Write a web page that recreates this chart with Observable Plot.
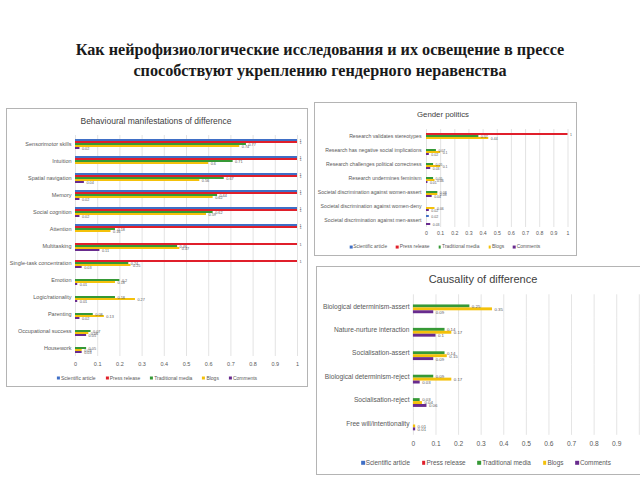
<!DOCTYPE html>
<html><head><meta charset="utf-8">
<script src="https://cdn.jsdelivr.net/npm/d3@7"></script>
<script src="https://cdn.jsdelivr.net/npm/@observablehq/plot@0.6"></script>
<style>
html,body{margin:0;padding:0;background:#fff;overflow:hidden;}
#page{position:relative;width:640px;height:480px;overflow:hidden;font-family:"Liberation Sans",Arial,sans-serif;background:#fff;}
.panel{position:absolute;border:1px solid #b4b4b4;box-sizing:border-box;background:#fff;}
.plot{position:absolute;}
.ptitle{position:absolute;transform:translate(-50%,-50%);white-space:nowrap;color:#404040;line-height:1;}
.legend{position:absolute;transform:translate(-50%,-50%);display:flex;white-space:nowrap;color:#595959;align-items:center;line-height:1;}
.legend .item{display:flex;align-items:center;}
.legend .sw{display:inline-block;margin-right:1px;}
.maintitle{position:absolute;left:0;width:640px;text-align:center;font-family:"Liberation Serif","Times New Roman",serif;font-weight:bold;color:#1a1a1a;white-space:nowrap;line-height:1;transform:translateY(-50%);}
</style></head><body><div id="page"></div><script>
// ---------- data ----------
const seriesNames = ["Scientific article","Press release","Traditional media","Blogs","Comments"];
const seriesColors = ["#3f6fc6","#e01f2b","#369936","#f4c10a","#682b8e"];
const mainTitle = ["Как нейрофизиологические исследования и их освещение в прессе","способствуют укреплению гендерного неравенства"];

const behaviourTitle = "Behavioural manifestations of difference";
const behaviourCategories = ["Sensorimotor skills","Intuition","Spatial navigation","Memory","Social cognition","Attention","Multitasking","Single-task concentration","Emotion","Logic/rationality","Parenting","Occupational success","Housework"];
const behaviourScientific  = [1,1,1,1,1,1,null,null,null,null,null,null,null];
const behaviourPress       = [1,1,1,1,1,1,1,1,null,null,null,null,null];
const behaviourTraditional = [0.77,0.71,0.67,0.64,0.62,0.18,0.46,0.24,0.2,0.18,0.08,0.07,0.05];
const behaviourBlogs       = [0.74,0.6,0.56,0.62,0.59,0.16,0.47,0.25,0.18,0.27,0.13,0.06,0.03];
const behaviourComments    = [0.02,null,0.04,0.02,0.02,null,0.11,0.03,0.01,0.01,0.02,0.05,0.03];
const behaviourTicks = [0,0.1,0.2,0.3,0.4,0.5,0.6,0.7,0.8,0.9,1];

const genderTitle = "Gender politics";
const genderCategories = ["Research validates stereotypes","Research has negative social implications","Research challenges political correctness","Research undermines feminism","Societal discrimination against women-assert","Societal discrimination against women-deny","Societal discrimination against men-assert"];
const genderScientific  = [null,null,null,null,null,null,0.02];
const genderPress       = [1,null,null,null,null,null,null];
const genderTraditional = [0.37,0.07,0.05,0.05,0.08,null,null];
const genderBlogs       = [0.44,0.1,0.1,0.06,0.08,0.06,null];
const genderComments    = [null,0.02,0.03,0.01,0.04,0.02,0.03];
const genderTicks = [0,0.1,0.2,0.3,0.4,0.5,0.6,0.7,0.8,0.9,1];

const causalityTitle = "Causality of difference";
const causalityCategories = ["Biological determinism-assert","Nature-nurture interaction","Socialisation-assert","Biological determinism-reject","Socialisation-reject","Free will/intentionality"];
const causalityScientific  = [null,null,null,null,null,null];
const causalityPress       = [null,null,null,null,null,null];
const causalityTraditional = [0.25,0.14,0.14,0.09,0.03,null];
const causalityBlogs       = [0.35,0.17,0.15,0.17,0.04,0.01];
const causalityComments    = [0.09,0.1,0.09,0.03,0.06,0.01];
const causalityTicks = [0,0.1,0.2,0.3,0.4,0.5,0.6,0.7,0.8,0.9];
const causalityGrid = [0,0.1,0.2,0.3,0.4,0.5,0.6,0.7,0.8,0.9,1];

// ---------- helpers ----------
const page = document.getElementById("page");
function el(cls, css, html) {
  const d = document.createElement("div");
  d.className = cls;
  Object.assign(d.style, css);
  if (html != null) d.textContent = html;
  page.appendChild(d);
  return d;
}
function rowsFrom(categories, cols) {
  const out = [];
  categories.forEach((c, i) => cols.forEach((arr, s) => {
    const v = arr[i];
    if (v != null) out.push({category: c, series: seriesNames[s], value: v});
  }));
  return out;
}
function chart(o) {
  const svg = Plot.plot({
    width: o.width, height: o.height,
    marginLeft: o.ml, marginRight: o.mr, marginTop: o.mt, marginBottom: o.mb,
    style: {fontFamily: "Liberation Sans, Arial, sans-serif", fontSize: o.fs + "px", color: "#595959", background: "transparent", overflow: "visible"},
    facet: {data: o.rows, y: "category"},
    fy: {domain: o.categories, padding: 0, axis: "left", label: null, tickSize: 0, tickPadding: o.fyPad},
    y: {domain: seriesNames, axis: null, paddingInner: 0, paddingOuter: o.po},
    x: {domain: [0, 1], ticks: o.ticks, tickFormat: d => String(+d.toFixed(1)), tickSize: 0, tickPadding: o.tp, label: null},
    color: {domain: seriesNames, range: seriesColors},
    marks: [
      Plot.ruleX(o.grid, {stroke: "#dcdcdc", strokeWidth: 0.8}),
      Plot.barX(o.rows, {x: "value", y: "series", fill: "series"}),
      Plot.text(o.rows, {x: "value", y: "series", text: d => String(d.value), dx: 2, textAnchor: "start", fontSize: o.vs, fill: "#595959"})
    ]
  });
  const wrap = el("plot", {left: o.left + "px", top: o.top + "px"});
  wrap.appendChild(svg);
}
function legend(cx, cy, fs, sw, gap) {
  const L = el("legend", {left: cx + "px", top: cy + "px", fontSize: fs + "px", gap: gap + "px"});
  seriesNames.forEach((n, i) => {
    const it = document.createElement("div"); it.className = "item";
    const s = document.createElement("span"); s.className = "sw";
    Object.assign(s.style, {width: sw + "px", height: sw + "px", background: seriesColors[i]});
    it.appendChild(s);
    const t = document.createElement("span"); t.textContent = n;
    it.appendChild(t);
    L.appendChild(it);
  });
}

// ---------- main title ----------
el("maintitle", {top: "50px", fontSize: "16.2px"}, mainTitle[0]);
el("maintitle", {top: "70.5px", fontSize: "16.2px"}, mainTitle[1]);

// ---------- panel 1 ----------
el("panel", {left: "6px", top: "108px", width: "302px", height: "279px"});
el("ptitle", {left: "156px", top: "121px", fontSize: "8.5px"}, behaviourTitle);
chart({
  rows: rowsFrom(behaviourCategories, [behaviourScientific, behaviourPress, behaviourTraditional, behaviourBlogs, behaviourComments]),
  categories: behaviourCategories, left: 6, top: 109, width: 302, height: 267,
  ml: 69, mr: 11, mt: 23, mb: 17, fs: 5.5, fyPad: 4, tp: 6, po: 0.8, vs: 3.8,
  ticks: behaviourTicks, grid: behaviourTicks
});
legend(157, 378, 5, 3, 10);

// ---------- panel 2 ----------
el("panel", {left: "314px", top: "102px", width: "263px", height: "154px"});
el("ptitle", {left: "443px", top: "115px", fontSize: "7.8px"}, genderTitle);
chart({
  rows: rowsFrom(genderCategories, [genderScientific, genderPress, genderTraditional, genderBlogs, genderComments]),
  categories: genderCategories, left: 314, top: 102, width: 262, height: 140,
  ml: 112, mr: 8.5, mt: 24, mb: 12, fs: 5.2, fyPad: 5, tp: 4, po: 0.9, vs: 3.5,
  ticks: genderTicks, grid: genderTicks
});
legend(445, 247, 4.9, 2.5, 9);

// ---------- panel 3 ----------
el("panel", {left: "316px", top: "266px", width: "340px", height: "209px"});
el("ptitle", {left: "483px", top: "279px", fontSize: "11px"}, causalityTitle);
chart({
  rows: rowsFrom(causalityCategories, [causalityScientific, causalityPress, causalityTraditional, causalityBlogs, causalityComments]),
  categories: causalityCategories, left: 316, top: 266, width: 332, height: 188,
  ml: 99.3, mr: 1.2, mt: 28.6, mb: 15.2, fs: 6.8, fyPad: 4, tp: 6.5, po: 1.1, vs: 4.5,
  ticks: causalityTicks, grid: causalityGrid
});
legend(486, 463, 6.4, 3.5, 12);
</script></body></html>
